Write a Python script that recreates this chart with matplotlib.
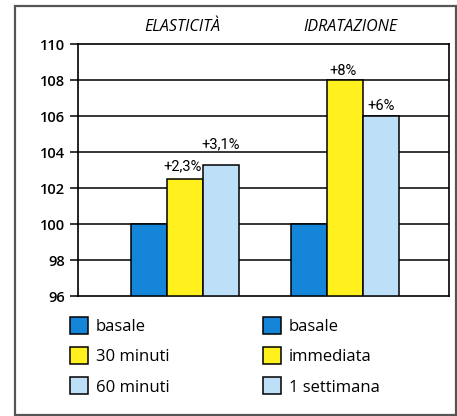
import matplotlib
matplotlib.use("Agg")
import matplotlib.pyplot as plt
from matplotlib.patches import Rectangle, Patch
import numpy as np

# ---- data ----
groups = ["ELASTICITÀ", "IDRATAZIONE"]
basale = [100, 100]
second = [102.5, 108]      # 30 minuti / immediata
third = [103.3, 106]       # 60 minuti / 1 settimana
second_labels = ["+2,3%", "+8%"]
third_labels = ["+3,1%", "+6%"]
legend_left = ["basale", "30 minuti", "60 minuti"]
legend_right = ["basale", "immediata", "1 settimana"]
yticks = [96, 98, 100, 102, 104, 106, 108, 110]

c_blue = "#1485d8"
c_yellow = "#fff01e"
c_light = "#bde0f8"

W, H = 457, 416
fig = plt.figure(figsize=(W / 100, H / 100), dpi=100)
fig.patch.set_facecolor("white")

# outer frame
fig.patches.append(Rectangle((15 / W, 1 / H), (456 - 15) / W, (410 - 1) / H,
                             transform=fig.transFigure, fill=False,
                             edgecolor="#555555", linewidth=1.6))

ax = fig.add_axes([78 / W, (H - 296) / H, (449 - 78) / W, (296 - 44) / H])
x = np.arange(len(groups))
w = 0.225
ax.set_xlim(-0.669, 1.65)
ax.set_ylim(96, 110)

for yv in yticks[1:-1]:
    ax.axhline(yv, color="black", lw=1.1, zorder=1)

ax.bar(x - w, [v - 96 for v in basale], w, bottom=96, color=c_blue,
       edgecolor="black", lw=1.1, zorder=3)
ax.bar(x, [v - 96 for v in second], w, bottom=96, color=c_yellow,
       edgecolor="black", lw=1.1, zorder=3)
ax.bar(x + w, [v - 96 for v in third], w, bottom=96, color=c_light,
       edgecolor="black", lw=1.1, zorder=3)

lab_font = ["Roboto", "DejaVu Sans"]
off2 = [9, 5]
off3 = [16, 6]
title_dx = [-3, 5]
for i in range(len(groups)):
    ax.annotate(second_labels[i], (x[i], second[i]), xytext=(-2, off2[i]),
                textcoords="offset pixels", ha="center", va="baseline",
                fontsize=10.5, family=lab_font, zorder=5)
    ax.annotate(third_labels[i], (x[i] + w, third[i]), xytext=(0, off3[i]),
                textcoords="offset pixels", ha="center", va="baseline",
                fontsize=10.5, family=lab_font, zorder=5)
    ax.annotate(groups[i], (x[i], 110), xytext=(title_dx[i], 13),
                textcoords="offset pixels", ha="center", va="baseline",
                fontsize=11.5, style="italic",
                family=["Open Sans", "DejaVu Sans"], annotation_clip=False)

ax.set_yticks(yticks)
ax.set_yticklabels([str(v) for v in yticks], fontsize=10.5,
                   family=["Open Sans", "DejaVu Sans"], fontweight="semibold")
ax.set_xticks([])
ax.tick_params(axis="y", length=6, width=1.1, pad=3, color="black")
for s in ax.spines.values():
    s.set_linewidth(1.2)
    s.set_color("black")

leg_kw = dict(loc="upper left", frameon=False, ncol=1,
              handlelength=1.1, handleheight=1.2, handletextpad=0.45,
              labelspacing=0.72, borderpad=0, borderaxespad=0,
              prop={"family": ["Open Sans", "DejaVu Sans"], "size": 12})
hl = [Patch(facecolor=c, edgecolor="black", lw=1.1) for c in (c_blue, c_yellow, c_light)]
fig.legend(hl, legend_left, bbox_to_anchor=(70 / W, 1 - 317 / H), **leg_kw)
fig.legend(hl, legend_right, bbox_to_anchor=(263 / W, 1 - 317 / H), **leg_kw)

fig.savefig("out.png", dpi=100, facecolor="white")
